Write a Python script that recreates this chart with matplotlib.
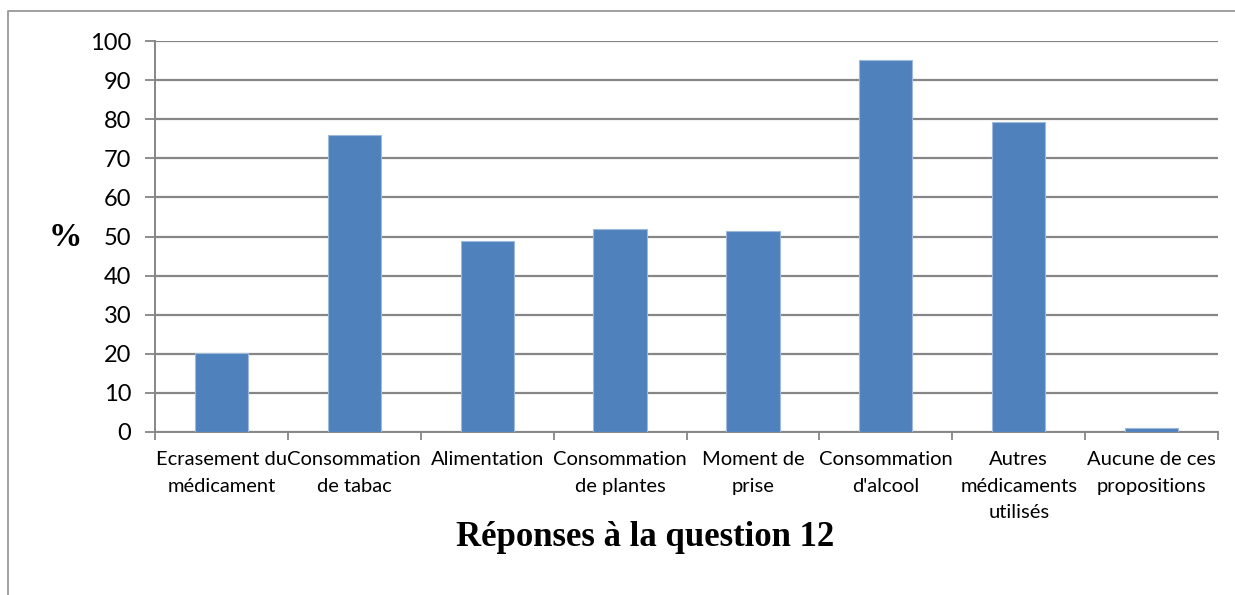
import matplotlib
matplotlib.use("Agg")
import matplotlib.pyplot as plt
from matplotlib.lines import Line2D

categories = ["Ecrasement du\nmédicament", "Consommation\nde tabac", "Alimentation",
              "Consommation\nde plantes", "Moment de\nprise", "Consommation\nd'alcool",
              "Autres\nmédicaments\nutilisés", "Aucune de ces\npropositions"]
values = [20.2, 75.9, 48.9, 51.9, 51.4, 95.1, 79.2, 0.9]
yticks = [0, 10, 20, 30, 40, 50, 60, 70, 80, 90, 100]

W, H = 1235, 595
fig = plt.figure(figsize=(W / 100, H / 100), dpi=100)
ax = fig.add_axes([155 / W, 1 - 432 / H, (1218 - 155) / W, (432 - 41) / H])

grid_c = "#868686"
x = list(range(len(categories)))
ax.bar(x, values, width=0.4, color="#4F81BD", edgecolor="#9DB9DC", linewidth=0.8, zorder=3)

ax.set_xlim(-0.5, len(categories) - 0.5)
ax.set_ylim(0, 100)
ax.set_yticks(yticks)
ax.set_yticklabels([str(v) for v in yticks], fontfamily="Lato", fontsize=17)
ax.yaxis.grid(True, color=grid_c, linewidth=1.6, zorder=0)
ax.set_axisbelow(True)

ax.set_xticks(x)
ax.set_xticklabels(categories, fontfamily="Lato", fontsize=14.5, linespacing=1.65)
ax.tick_params(axis="x", which="major", length=0, pad=14)
ax.set_xticks([i - 0.5 for i in range(len(categories) + 1)], minor=True)
ax.tick_params(axis="x", which="minor", length=6, color=grid_c, width=1.3)
ax.tick_params(axis="y", length=7, color=grid_c, width=1.3, pad=10)

for s in ["top", "right"]:
    ax.spines[s].set_visible(False)
for s in ["left", "bottom"]:
    ax.spines[s].set_color(grid_c)
    ax.spines[s].set_linewidth(1.4)

fig.text(65 / W, 1 - 238 / H, "%", fontfamily="Liberation Serif", fontweight="bold",
         fontsize=24, ha="center", va="center")
fig.text(645 / W, 1 - 537 / H, "Réponses à la question 12", fontfamily="Liberation Serif",
         fontweight="bold", fontsize=25, ha="center", va="center")

fig.add_artist(Line2D([8 / W, 8 / W, 1], [0, 1 - 11 / H, 1 - 11 / H],
                      transform=fig.transFigure, color="#999999", linewidth=1.3))

fig.savefig("out.png", dpi=100)
